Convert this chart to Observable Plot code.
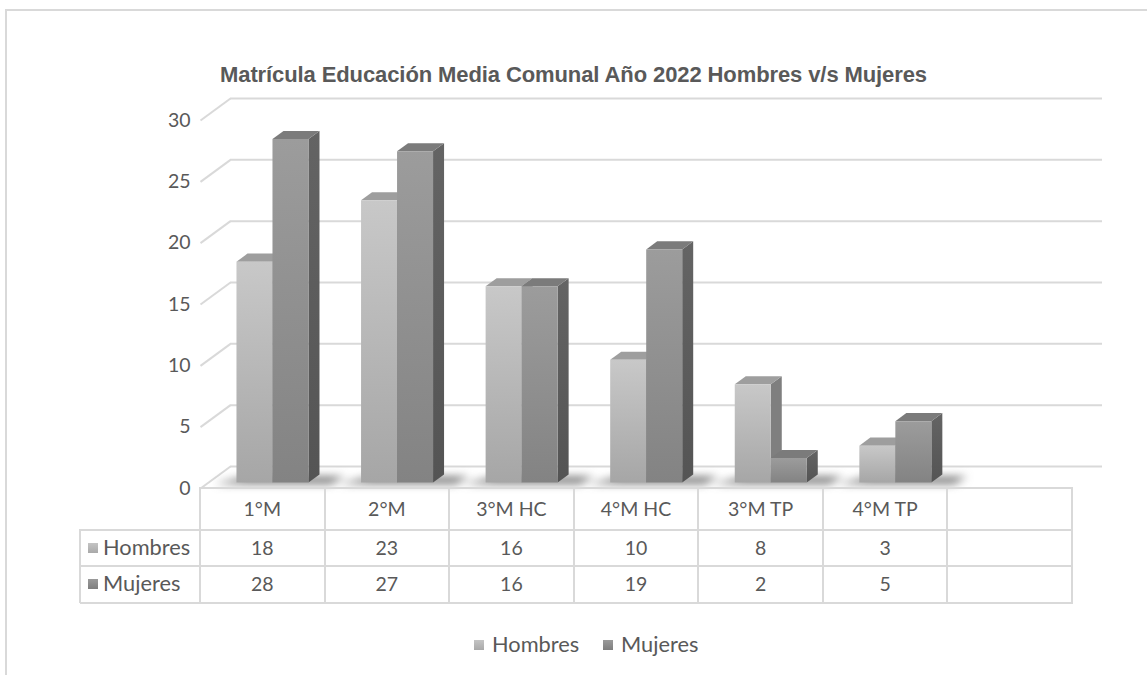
<!DOCTYPE html>
<html>
<head>
<meta charset="utf-8">
<script src="https://cdn.jsdelivr.net/npm/d3@7"></script>
<script src="https://cdn.jsdelivr.net/npm/@observablehq/plot@0.6"></script>
<style>
  html, body { margin: 0; padding: 0; background: #fff; }
  #wrap { position: relative; width: 1147px; height: 675px; overflow: hidden; font-family: Lato, "Open Sans", sans-serif; color: #595959; }
  #wrap svg { position: absolute; left: 0; top: 0; }
  .abs { position: absolute; }
  .hl { position: absolute; height: 2px; background: #d9d9d9; }
  .vl { position: absolute; width: 2px; background: #d9d9d9; }
  .cell { position: absolute; text-align: center; font-size: 19.5px; white-space: nowrap; line-height: 24px; }
  .lab { font-size: 21.8px; text-align: left; }
  .key { position: absolute; width: 10px; height: 10px; }
</style>
</head>
<body>
<div id="wrap"></div>
<script>
// ---------- data ----------
const title = "Matrícula Educación Media Comunal Año 2022 Hombres v/s Mujeres";
const categories = ["1°M", "2°M", "3°M HC", "4°M HC", "3°M TP", "4°M TP"];
const seriesNames = ["Hombres", "Mujeres"];
const hombres = [18, 23, 16, 10, 8, 3];
const mujeres = [28, 27, 16, 19, 2, 5];
const yTicks = [0, 5, 10, 15, 20, 25, 30];

// ---------- geometry (styles) ----------
const W = 1147, H = 675;
const SLOTS = categories.length + 1;          // one empty slot on the right
const BACK_X = [230, 1102], BACK_Y = [466, 98]; // back wall pixel range
const pxPerSlot = (BACK_X[1] - BACK_X[0]) / SLOTS;
const pxPerUnit = (BACK_Y[0] - BACK_Y[1]) / 30;
const DDX = -30 / pxPerSlot, DDY = -22 / pxPerUnit;  // offset for depth 1 (front edge)
const proj = (s, v, d) => ({x: s + d * DDX, y: v + d * DDY});
const BAR_W = 36 / pxPerSlot;
const BAR_SHIFT = 1.5 / pxPerSlot;
const FRONT = 0.727, BACK = 0.36;

const colors = {
  Hombres: {front: "url(#gH)", top: "#9e9e9e", side: "#7f7f7f"},
  Mujeres: {front: "url(#gM)", top: "#7b7b7b", side: "url(#gS)"}
};

// build polygons
const polys = [];
const shadows = [];
let pid = 0;
categories.forEach((c, i) => {
  const center = i + 0.5 + BAR_SHIFT;
  const left = center - BAR_W, right = center + BAR_W;
  [[left + 0.02, 0.45], [right + 0.22, 0.45], [right + 0.2, 0.8], [left - 0.16, 0.8]].forEach(([s, d]) => {
    const p = proj(s, 0, d); shadows.push({id: i, x: p.x, y: p.y});
  });
  [hombres[i], mujeres[i]].forEach((v, j) => {
    const name = seriesNames[j];
    const x0 = left + j * BAR_W, x1 = x0 + BAR_W;
    const face = (pts, fill) => { pid++; pts.forEach(([s, val, d]) => { const p = proj(s, val, d); polys.push({id: pid, x: p.x, y: p.y, fill}); }); };
    face([[x1, 0, FRONT], [x1, 0, BACK], [x1, v, BACK], [x1, v, FRONT]], colors[name].side);
    face([[x0, v, FRONT], [x1, v, FRONT], [x1, v, BACK], [x0, v, BACK]], colors[name].top);
    face([[x0, 0, FRONT], [x1, 0, FRONT], [x1, v, FRONT], [x0, v, FRONT]], colors[name].front);
  });
});

const plot = Plot.plot({
  width: W, height: H,
  x: {domain: [0, SLOTS], range: BACK_X, axis: null},
  y: {domain: [0, 30], range: BACK_Y, axis: null},
  color: {type: "identity"},
  marks: [
    Plot.ruleY(yTicks, {x1: 0, x2: SLOTS, y: d => d, stroke: "#d9d9d9", strokeWidth: 2}),
    Plot.link(yTicks, {x1: 0, y1: d => d, x2: d => proj(0, d, 1).x, y2: d => proj(0, d, 1).y, stroke: "#d9d9d9", strokeWidth: 2}),
    Plot.text(yTicks, {x: d => proj(0, d, 1).x, y: d => proj(0, d, 1).y, text: d => String(d), textAnchor: "end", dx: -10, fontSize: 19.5, fill: "#595959", fontFamily: "Lato"}),
    Plot.line(shadows, {x: "x", y: "y", z: "id", fill: "#404040", stroke: "none", className: "shadow", imageFilter: "blur(4px)", fillOpacity: 0.7}),
    Plot.line(polys, {x: "x", y: "y", z: "id", fill: "fill", stroke: "none", className: "bars"})
  ]
});

const svg = d3.select(plot);
const defs = svg.append("defs");
const grad = (id, a, b) => {
  const g = defs.append("linearGradient").attr("id", id).attr("x1", 0).attr("y1", 0).attr("x2", 0).attr("y2", 1);
  g.append("stop").attr("offset", 0).attr("stop-color", a);
  g.append("stop").attr("offset", 1).attr("stop-color", b);
};
grad("gH", "#c8c8c8", "#a6a6a6");
grad("gM", "#9c9c9c", "#838383");
grad("gS", "#646464", "#545454");

const wrap = document.getElementById("wrap");
wrap.appendChild(plot);

const keyBg = {Hombres: "linear-gradient(#c4c4c4, #a9a9a9)", Mujeres: "linear-gradient(#9a9a9a, #7e7e7e)"};

// ---------- frame ----------
function div(cls, styles, text) {
  const d = document.createElement("div");
  d.className = cls;
  Object.assign(d.style, styles);
  if (text != null) d.textContent = text;
  wrap.appendChild(d);
  return d;
}
div("hl", {left: "5px", top: "9px", width: (W - 5) + "px"});
div("vl", {left: "5px", top: "9px", height: (H - 9) + "px"});

// title
div("abs", {left: "0px", width: W + "px", top: "62px", textAlign: "center", fontFamily: "'Liberation Sans', Arial, sans-serif", fontWeight: "bold", fontSize: "22px", color: "#595959", letterSpacing: "-0.1px"}, title);

// ---------- data table ----------
const xs = plot.scale("x"), ys = plot.scale("y");
const colX = d3.range(SLOTS + 1).map(k => xs.apply(proj(k, 0, 1).x));
const tableTop = ys.apply(proj(0, 0, 1).y);
const rowY = [tableTop, tableTop + 42, tableTop + 78, tableTop + 115];
const labelLeft = 80;
div("hl", {left: colX[0] + "px", top: (rowY[0] - 1) + "px", width: (colX[SLOTS] - colX[0] + 1) + "px"});
for (let r = 1; r < 4; r++) div("hl", {left: labelLeft + "px", top: (rowY[r] - 1) + "px", width: (colX[SLOTS] - labelLeft + 1) + "px"});
colX.forEach(x => div("vl", {left: (x - 1) + "px", top: (rowY[0] - 1) + "px", height: (rowY[3] - rowY[0] + 1) + "px"}));
div("vl", {left: (labelLeft - 1) + "px", top: (rowY[1] - 1) + "px", height: (rowY[3] - rowY[1] + 1) + "px"});

categories.forEach((c, i) => {
  const w = (colX[i + 1] - colX[i]) + "px";
  div("cell", {left: colX[i] + "px", width: w, top: (rowY[0] + 9) + "px"}, c);
  div("cell", {left: colX[i] + "px", width: w, top: (rowY[1] + 6) + "px"}, String(hombres[i]));
  div("cell", {left: colX[i] + "px", width: w, top: (rowY[2] + 6) + "px"}, String(mujeres[i]));
});
seriesNames.forEach((name, j) => {
  const r = j + 1;
  div("key", {left: (labelLeft + 8) + "px", top: (rowY[r] + 13) + "px", background: keyBg[name]});
  div("cell lab", {left: (labelLeft + 23) + "px", top: (rowY[r] + 5) + "px"}, name);
});

// ---------- legend ----------
const legX = [474, 603];
seriesNames.forEach((name, j) => {
  div("key", {left: legX[j] + "px", top: "640px", background: keyBg[name]});
  div("cell lab", {left: (legX[j] + 18) + "px", top: "632px"}, name);
});
</script>
</body>
</html>
